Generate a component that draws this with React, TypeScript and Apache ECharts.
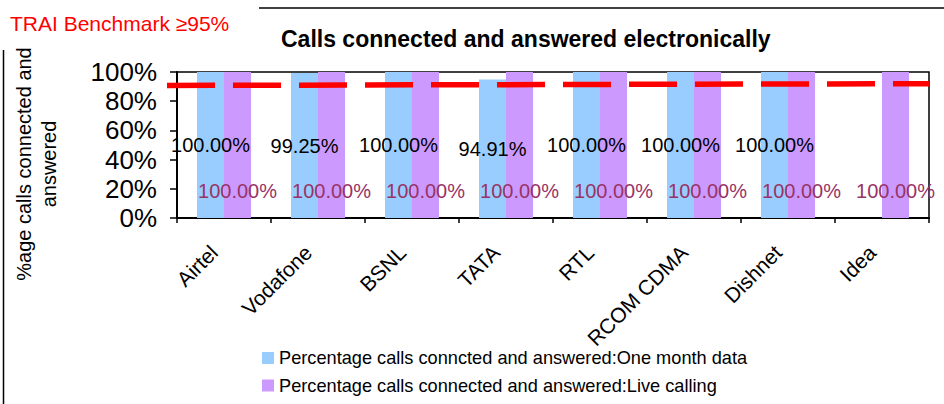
import React, { useEffect, useRef } from "react";
import * as echarts from "echarts";

const categories = ["Airtel", "Vodafone", "BSNL", "TATA", "RTL", "RCOM CDMA", "Dishnet", "Idea"];
const oneMonthData = [100, 99.25, 100, 94.91, 100, 100, 100, null];
const liveCalling = [100, 100, 100, 100, 100, 100, 100, 100];
const seriesNames = [
  "Percentage calls conncted and answered:One month data",
  "Percentage calls connected and answered:Live calling",
];
// Benchmark stroke as drawn on the picture (left end value, right end value)
const benchmarkLine = [90.8, 92.0];
const yTicks = { min: 0, max: 100, interval: 20 };

const FONT = "'Liberation Sans', Arial, sans-serif";

export default function App() {
  const ref = useRef<HTMLDivElement>(null);
  useEffect(() => {
    document.body.style.margin = "0";
    if (!ref.current) return;
    const chart = echarts.init(ref.current, undefined, { renderer: "svg" });
    const gridLeft = 177;
    const gridRight = 15;
    const option: any = {
      animation: false,
      textStyle: { fontFamily: FONT },
      title: {
        text: "Calls connected and answered electronically",
        left: 281,
        top: 27,
        padding: 0,
        textStyle: { fontSize: 23, fontWeight: "bold", color: "#000", fontFamily: FONT },
      },
      legend: {
        orient: "vertical",
        left: 262,
        top: 349,
        padding: 0,
        itemWidth: 12,
        itemHeight: 12,
        itemGap: 9.5,
        icon: "rect",
        textStyle: { fontSize: 18.2, color: "#000", fontFamily: FONT },
        data: seriesNames,
      },
      grid: {
        left: gridLeft,
        right: gridRight,
        top: 72,
        bottom: 186,
        show: true,
        borderColor: "#000",
        borderWidth: 1.5,
      },
      xAxis: {
        type: "category",
        data: categories,
        axisLine: { lineStyle: { color: "#000", width: 2 } },
        axisTick: { show: true, length: 5, lineStyle: { color: "#000", width: 1.5 } },
        axisLabel: {
          interval: 0,
          rotate: 45,
          fontSize: 21,
          color: "#000",
          margin: 21,
          padding: [0, 14, 0, 0],
          fontFamily: FONT,
        },
      },
      yAxis: {
        type: "value",
        min: yTicks.min,
        max: yTicks.max,
        interval: yTicks.interval,
        splitLine: { show: false },
        axisLine: { show: true, lineStyle: { color: "#000", width: 2 } },
        axisTick: { show: true, length: 7, lineStyle: { color: "#000", width: 1.5 } },
        axisLabel: { formatter: "{value}%", fontSize: 26, color: "#000", margin: 20, fontFamily: FONT },
      },
      series: [
        {
          name: seriesNames[0],
          type: "bar",
          data: oneMonthData,
          barWidth: 27,
          barGap: "0%",
          itemStyle: { color: "#99CCFF" },
          label: {
            show: true,
            position: "inside",
            fontSize: 20,
            color: "#000",
            fontFamily: FONT,
            formatter: (p: any) => (p.value == null ? "" : Number(p.value).toFixed(2) + "%"),
          },
        },
        {
          name: seriesNames[1],
          type: "bar",
          data: liveCalling,
          barWidth: 27,
          barGap: "0%",
          itemStyle: { color: "#CC99FF" },
          label: {
            show: true,
            position: ["50%", "81.5%"],
            align: "center",
            verticalAlign: "middle",
            fontSize: 20,
            color: "#993366",
            fontFamily: FONT,
            formatter: (p: any) => Number(p.value).toFixed(2) + "%",
          },
        },
      ],
    };
    chart.setOption(option);

    const y0 = chart.convertToPixel({ yAxisIndex: 0 }, benchmarkLine[0]) as number;
    const y1 = chart.convertToPixel({ yAxisIndex: 0 }, benchmarkLine[1]) as number;
    const W = 944;
    chart.setOption({
      graphic: [
        {
          type: "line",
          shape: { x1: gridLeft - 10, y1: y0, x2: W - gridRight, y2: y1 },
          style: { stroke: "#ff0000", lineWidth: 5.5, lineDash: [48, 18], lineCap: "butt" },
          z: 100,
        },
        {
          type: "text",
          left: 10,
          top: 13,
          style: { text: "TRAI Benchmark ≥95%", fontSize: 21, fill: "#ff0000", fontFamily: FONT },
        },
        {
          type: "line",
          shape: { x1: 259, y1: 8, x2: W, y2: 8 },
          style: { stroke: "#000", lineWidth: 1.5 },
        },
        {
          type: "line",
          shape: { x1: 3.5, y1: 50, x2: 3.5, y2: 404 },
          style: { stroke: "#000", lineWidth: 1.5 },
        },
        {
          type: "text",
          x: 36,
          y: 164,
          rotation: Math.PI / 2,
          style: {
            text: "%age calls connected and\nanswered",
            fontSize: 20,
            lineHeight: 25,
            fill: "#000",
            align: "center",
            verticalAlign: "middle",
            fontFamily: FONT,
          },
        },
      ],
    });
    return () => chart.dispose();
  }, []);
  return <div ref={ref} style={{ width: 944, height: 404 }} />;
}
